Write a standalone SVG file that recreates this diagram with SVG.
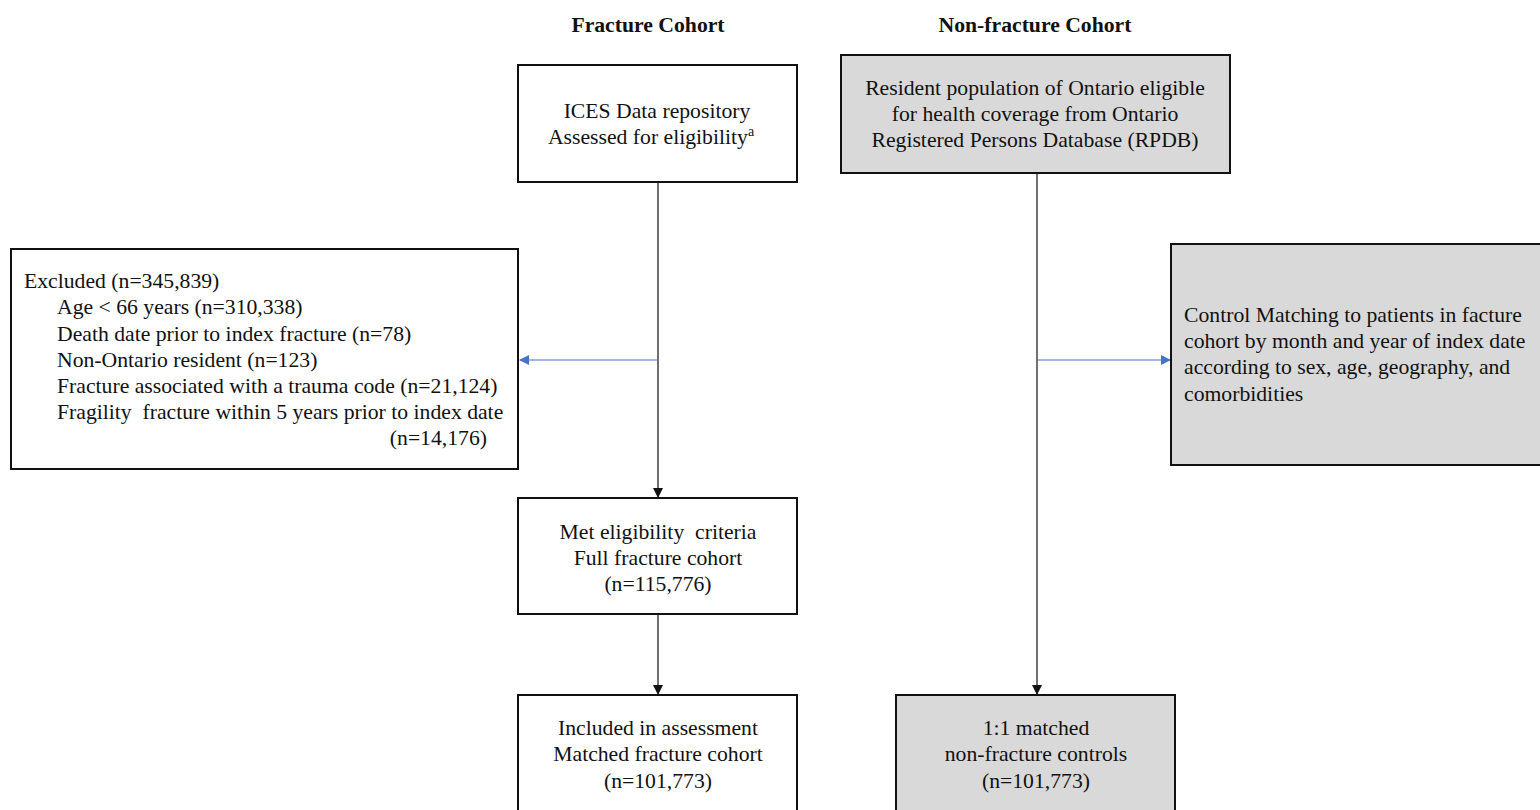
<svg xmlns="http://www.w3.org/2000/svg" width="1540" height="810" viewBox="0 0 1540 810">
<defs>
<style>
text{font-family:"Liberation Serif","Times New Roman",serif;font-size:21.7px;fill:#111}
.h{font-weight:bold}
.c{text-anchor:middle}
.box{fill:#fff;stroke:#111;stroke-width:2}
.grey{fill:#d9d9d9;stroke:#111;stroke-width:2}
.ln{stroke:#111;stroke-width:1.2;fill:none}
.bl{stroke:#4472c4;stroke-width:1.2;fill:none}
</style>
<marker id="ak" markerWidth="10" markerHeight="10" refX="9" refY="5" orient="auto" markerUnits="userSpaceOnUse"><path d="M0,0 L10,5 L0,10 Z" fill="#111"/></marker>
<marker id="ab" markerWidth="10" markerHeight="10" refX="9" refY="5" orient="auto" markerUnits="userSpaceOnUse"><path d="M0,0 L10,5 L0,10 Z" fill="#4472c4"/></marker>
</defs>
<rect width="1540" height="810" fill="#fff"/>
<g id="headings">
<text class="h c" x="648" y="32">Fracture Cohort</text>
<text class="h c" x="1035" y="32">Non-fracture Cohort</text>
</g>
<g id="connectors">
<path class="ln" d="M658,182 V497" marker-end="url(#ak)"/>
<path class="bl" d="M658,360 H520" marker-end="url(#ab)"/>
<path class="ln" d="M658,614 V694" marker-end="url(#ak)"/>
<path class="ln" d="M1037,173 V694" marker-end="url(#ak)"/>
<path class="bl" d="M1037,360 H1170" marker-end="url(#ab)"/>
</g>
<g id="ices">
<rect class="box" x="518" y="65" width="279" height="117"/>
<text class="c" x="657" y="118">ICES Data repository</text>
<text class="c" x="651" y="144">Assessed for eligibility<tspan font-size="14" dy="-8">a</tspan></text>
</g>
<g id="rpdb">
<rect class="grey" x="841" y="55" width="389" height="118"/>
<text class="c" x="1035" y="95">Resident population of Ontario eligible</text>
<text class="c" x="1035" y="121">for health coverage from Ontario</text>
<text class="c" x="1035" y="147">Registered Persons Database (RPDB)</text>
</g>
<g id="excluded">
<rect class="box" x="11" y="249" width="507" height="220"/>
<text x="24" y="288">Excluded (n=345,839)</text>
<text x="57" y="314">Age &lt; 66 years (n=310,338)</text>
<text x="57" y="341">Death date prior to index fracture (n=78)</text>
<text x="57" y="367">Non-Ontario resident (n=123)</text>
<text x="57" y="393">Fracture associated with a trauma code (n=21,124)</text>
<text x="57" y="419" xml:space="preserve">Fragility  fracture within 5 years prior to index date</text>
<text x="487" y="445" text-anchor="end">(n=14,176)</text>
</g>
<g id="control">
<rect class="grey" x="1171" y="244" width="375" height="221"/>
<text x="1184" y="322">Control Matching to patients in facture</text>
<text x="1184" y="348">cohort by month and year of index date</text>
<text x="1184" y="374">according to sex, age, geography, and</text>
<text x="1184" y="401">comorbidities</text>
</g>
<g id="met">
<rect class="box" x="518" y="498" width="279" height="116"/>
<text class="c" x="658" y="539" xml:space="preserve">Met eligibility  criteria</text>
<text class="c" x="658" y="565">Full fracture cohort</text>
<text class="c" x="658" y="591">(n=115,776)</text>
</g>
<g id="included">
<rect class="box" x="518" y="695" width="279" height="125"/>
<text class="c" x="658" y="735">Included in assessment</text>
<text class="c" x="658" y="761">Matched fracture cohort</text>
<text class="c" x="658" y="788">(n=101,773)</text>
</g>
<g id="controls">
<rect class="grey" x="896" y="695" width="279" height="125"/>
<text class="c" x="1036" y="735">1:1 matched</text>
<text class="c" x="1036" y="761">non-fracture controls</text>
<text class="c" x="1036" y="788">(n=101,773)</text>
</g>
</svg>
